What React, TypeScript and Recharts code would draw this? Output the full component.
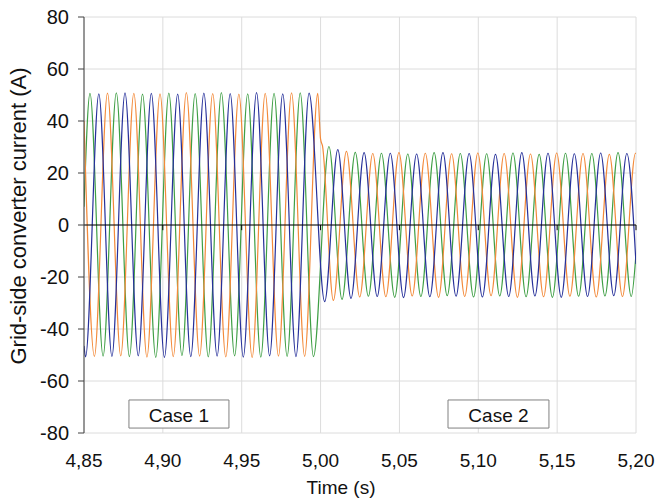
import React from 'react';
import {
  LineChart,
  Line,
  XAxis,
  YAxis,
  CartesianGrid,
  ReferenceLine,
  ReferenceArea,
} from 'recharts';

// Axis ticks
const xTicks = [4.85, 4.9, 4.95, 5.0, 5.05, 5.1, 5.15, 5.2];
const yTicks = [-80, -60, -40, -20, 0, 20, 40, 60, 80];

// Phase "green" – extrema times (s) and currents (A)
const greenTimes = [
  4.85, 4.8538, 4.8621, 4.8705, 4.8788, 4.8871, 4.8955, 4.9038, 4.9121, 4.9205, 4.9288,
  4.9371, 4.9455, 4.9538, 4.9621, 4.9705, 4.9788, 4.9871, 4.9955, 5.0053, 5.0136, 5.022,
  5.0303, 5.0386, 5.047, 5.0553, 5.0636, 5.072, 5.0803, 5.0886, 5.097, 5.1053, 5.1136,
  5.122, 5.1303, 5.1386, 5.147, 5.1553, 5.1636, 5.172, 5.1803, 5.1886, 5.197, 5.2,
];
const greenValues = [
  7, 50.6, -50.4, 50.8, -50.6, 50.3, -50.9, 50.7, -50.2, 50.5, -50.7, 50.9, -50.3, 50.4,
  -50.8, 50.6, -50.5, 50.8, -50.6, 30.2, -28.6, 27.9, -27.4, 27.6, -27.8, 27.3, -27.5,
  27.8, -27.2, 27.5, -27.7, 27.4, -27.3, 27.7, -27.6, 27.2, -27.8, 27.6, -27.4, 27.5,
  -27.3, 27.8, -27.5, -11,
];

// Phase "blue"
const blueTimes = [
  4.85, 4.851, 4.8594, 4.8677, 4.876, 4.8844, 4.8927, 4.901, 4.9094, 4.9177, 4.926, 4.9344,
  4.9427, 4.951, 4.9594, 4.9677, 4.976, 4.9844, 4.9927, 5.0026, 5.0109, 5.0193, 5.0276,
  5.0359, 5.0442, 5.0526, 5.0609, 5.0693, 5.0776, 5.0859, 5.0942, 5.1026, 5.1109, 5.1193,
  5.1276, 5.1359, 5.1442, 5.1526, 5.1609, 5.1693, 5.1776, 5.1859, 5.1942, 5.2,
];
const blueValues = [
  -46.5, -50.7, 50.4, -50.5, 50.8, -50.3, 50.6, -50.9, 50.3, -50.6, 50.7, -50.4, 50.5,
  -50.8, 50.9, -50.3, 50.4, -50.6, 50.7, -29.5, 29.0, -28.2, 27.8, -27.5, 27.6, -27.9,
  27.3, -27.6, 27.8, -27.4, 27.5, -27.7, 27.2, -27.5, 27.8, -27.3, 27.6, -27.8, 27.4,
  -27.5, 27.7, -27.2, 27.5, -15,
];

// Phase "orange"
const orangeTimes = [
  4.85, 4.8566, 4.8649, 4.8733, 4.8816, 4.8899, 4.8982, 4.9066, 4.9149, 4.9233, 4.9316,
  4.9399, 4.9482, 4.9566, 4.9649, 4.9733, 4.9816, 4.9899, 4.9982, 5.0, 5.0012, 5.0081,
  5.0164, 5.0248, 5.0331, 5.0414, 5.0497, 5.0581, 5.0664, 5.0748, 5.0831, 5.0914, 5.0997,
  5.1081, 5.1164, 5.1248, 5.1331, 5.1414, 5.1497, 5.1581, 5.1664, 5.1748, 5.1831, 5.1914,
  5.1997, 5.2,
];
const orangeValues = [
  40, -50.5, 50.7, -50.3, 50.6, -50.8, 50.4, -50.6, 50.9, -50.4, 50.5, -50.7, 50.3, -50.9,
  50.6, -50.4, 50.8, -50.5, 50.6, 33, 30.5, -29.0, 28.3, -27.7, 27.5, -27.6, 27.8, -27.3,
  27.6, -27.8, 27.4, -27.5, 27.7, -27.2, 27.5, -27.8, 27.3, -27.6, 27.7, -27.4, 27.5,
  -27.7, 27.2, -27.5, 27.6, 27.4,
];

const toSeries = (times: number[], values: number[]) =>
  times.map((t, i) => ({ t, v: values[i] }));

const greenData = toSeries(greenTimes, greenValues);
const blueData = toSeries(blueTimes, blueValues);
const orangeData = toSeries(orangeTimes, orangeValues);

const FONT = '"Liberation Sans", Arial, sans-serif';
const fmtX = (v: number) => v.toFixed(2).replace('.', ',');

const CaseLabel = (text: string) => (props: any) => {
  const vb = props.viewBox;
  return (
    <text
      x={vb.x + vb.width / 2}
      y={vb.y + vb.height / 2 + 1}
      textAnchor="middle"
      dominantBaseline="central"
      fontFamily={FONT}
      fontSize={19}
      fill="#111"
    >
      {text}
    </text>
  );
};

export default function App() {
  return (
    <div
      style={{
        position: 'absolute',
        left: 0,
        top: 0,
        width: 657,
        height: 499,
        background: '#fff',
      }}
    >
      <LineChart
        width={657}
        height={499}
        margin={{ top: 17, right: 21, bottom: 0, left: 0 }}
      >
        <CartesianGrid stroke="#dcdcdc" strokeWidth={1} />
        <XAxis
          type="number"
          dataKey="t"
          domain={[4.85, 5.2]}
          ticks={xTicks}
          allowDataOverflow
          tickFormatter={fmtX}
          axisLine={false}
          tickLine={false}
          tickSize={0}
          tickMargin={21}
          height={66}
          tick={{ fontSize: 19, fill: '#111', fontFamily: FONT }}
          label={(p: any) => (
            <text
              x={341}
              y={494}
              textAnchor="middle"
              fontFamily={FONT}
              fontSize={19}
              fill="#111"
            >
              Time (s)
            </text>
          )}
        />
        <YAxis
          type="number"
          domain={[-80, 80]}
          ticks={yTicks}
          width={84}
          allowDataOverflow
          axisLine={{ stroke: '#404040' }}
          tickLine={{ stroke: '#404040' }}
          tickSize={6}
          tickMargin={9}
          tick={{ fontSize: 20, fill: '#111', fontFamily: FONT }}
          label={(p: any) => (
            <text
              x={0}
              y={0}
              transform="translate(26,216) rotate(-90)"
              textAnchor="middle"
              fontFamily={FONT}
              fontSize={22}
              fill="#111"
            >
              Grid-side converter current (A)
            </text>
          )}
        />
        <ReferenceArea
          x1={4.8785}
          x2={4.9419}
          y1={-78.1}
          y2={-67.3}
          fill="#ffffff"
          fillOpacity={1}
          stroke="#808080"
          strokeWidth={1}
          label={CaseLabel('Case 1')}
        />
        <ReferenceArea
          x1={5.0808}
          x2={5.1448}
          y1={-78.1}
          y2={-67.3}
          fill="#ffffff"
          fillOpacity={1}
          stroke="#808080"
          strokeWidth={1}
          label={CaseLabel('Case 2')}
        />
        <Line
          data={greenData}
          dataKey="v"
          type="monotone"
          stroke="#3f9f45"
          strokeWidth={1.2}
          dot={false}
          isAnimationActive={false}
        />
        <Line
          data={orangeData}
          dataKey="v"
          type="monotone"
          stroke="#f38a3a"
          strokeWidth={1.2}
          dot={false}
          isAnimationActive={false}
        />
        <Line
          data={blueData}
          dataKey="v"
          type="monotone"
          stroke="#26309a"
          strokeWidth={1.2}
          dot={false}
          isAnimationActive={false}
        />
        <ReferenceLine y={0} stroke="#000" strokeWidth={1.2} />
        {xTicks.slice(1).map((x) => (
          <ReferenceLine
            key={x}
            segment={[
              { x, y: 0 },
              { x, y: -2 },
            ]}
            stroke="#000"
            strokeWidth={1}
          />
        ))}
      </LineChart>
    </div>
  );
}
